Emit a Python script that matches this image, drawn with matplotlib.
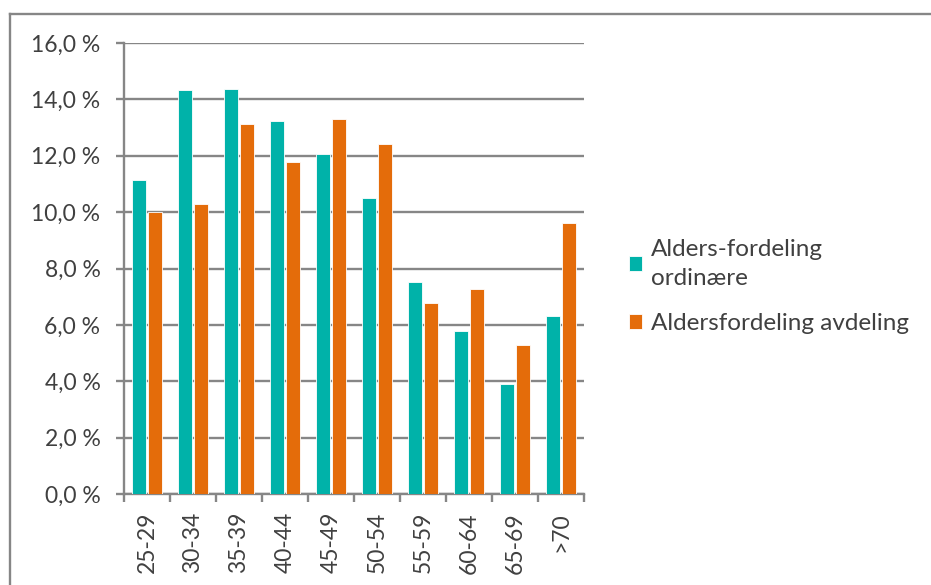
import matplotlib.pyplot as plt
from matplotlib.lines import Line2D
from matplotlib.ticker import FuncFormatter, FixedLocator
import numpy as np

plt.rcParams['font.family'] = ['Lato', 'DejaVu Sans']

age_groups = ['25-29', '30-34', '35-39', '40-44', '45-49', '50-54', '55-59', '60-64', '65-69', '>70']
ordinaere = [11.15, 14.33, 14.37, 13.24, 12.05, 10.51, 7.51, 5.78, 3.90, 6.32]
avdeling = [10.0, 10.28, 13.11, 11.78, 13.30, 12.42, 6.78, 7.27, 5.27, 9.60]
series_names = ['Alders-fordeling\nordinære', 'Aldersfordeling avdeling']

teal = '#00B2A9'
orange = '#E46C0A'
grid_gray = '#868686'
text_col = '#404040'

fig = plt.figure(figsize=(9.31, 5.85), dpi=100)
ax = fig.add_axes([124 / 931, 1 - 494 / 585, 460 / 931, 451 / 585])

x = np.arange(len(age_groups))
w = 0.31
ax.bar(x - 0.17, ordinaere, w, color=teal, edgecolor='white', linewidth=0.6, label=series_names[0], zorder=3)
ax.bar(x + 0.18, avdeling, w, color=orange, edgecolor='white', linewidth=0.6, label=series_names[1], zorder=3)

ax.set_xlim(-0.5, len(age_groups) - 0.5)
ax.set_ylim(0, 16)
ax.set_yticks(np.arange(0, 17, 2))
ax.yaxis.set_major_formatter(FuncFormatter(lambda v, p: f'{v:.1f} %'.replace('.', ',')))
ax.grid(axis='y', color=grid_gray, linewidth=1.7, zorder=0)
ax.set_axisbelow(True)

ax.set_xticks(x)
ax.set_xticklabels(age_groups, rotation=90)
ax.xaxis.set_minor_locator(FixedLocator(np.arange(-0.5, len(age_groups), 1)))
ax.tick_params(axis='x', which='major', length=0, pad=13, labelsize=16.5, labelcolor=text_col)
ax.tick_params(axis='x', which='minor', length=6, width=1.7, color=grid_gray, direction='out')
ax.tick_params(axis='y', length=6, width=1.7, color=grid_gray, labelsize=16.5, labelcolor=text_col, pad=11)

for s in ['top', 'right']:
    ax.spines[s].set_visible(False)
for s in ['left', 'bottom']:
    ax.spines[s].set_color(grid_gray)
    ax.spines[s].set_linewidth(1.7)

leg = ax.legend(loc='center left', bbox_to_anchor=(1.05, 0.46), frameon=False,
                fontsize=17.5, handlelength=0.55, handleheight=0.55, handletextpad=0.35,
                labelspacing=1.0, labelcolor=text_col)
for t in leg.get_texts():
    t.set_linespacing(1.45)

# outer chart frame
fig.add_artist(Line2D([10 / 931, 10 / 931], [0, 1 - 14 / 585], color=grid_gray, linewidth=1.7))
fig.add_artist(Line2D([10 / 931, 1], [1 - 14 / 585, 1 - 14 / 585], color=grid_gray, linewidth=1.7))

plt.savefig('out.png', dpi=100)
